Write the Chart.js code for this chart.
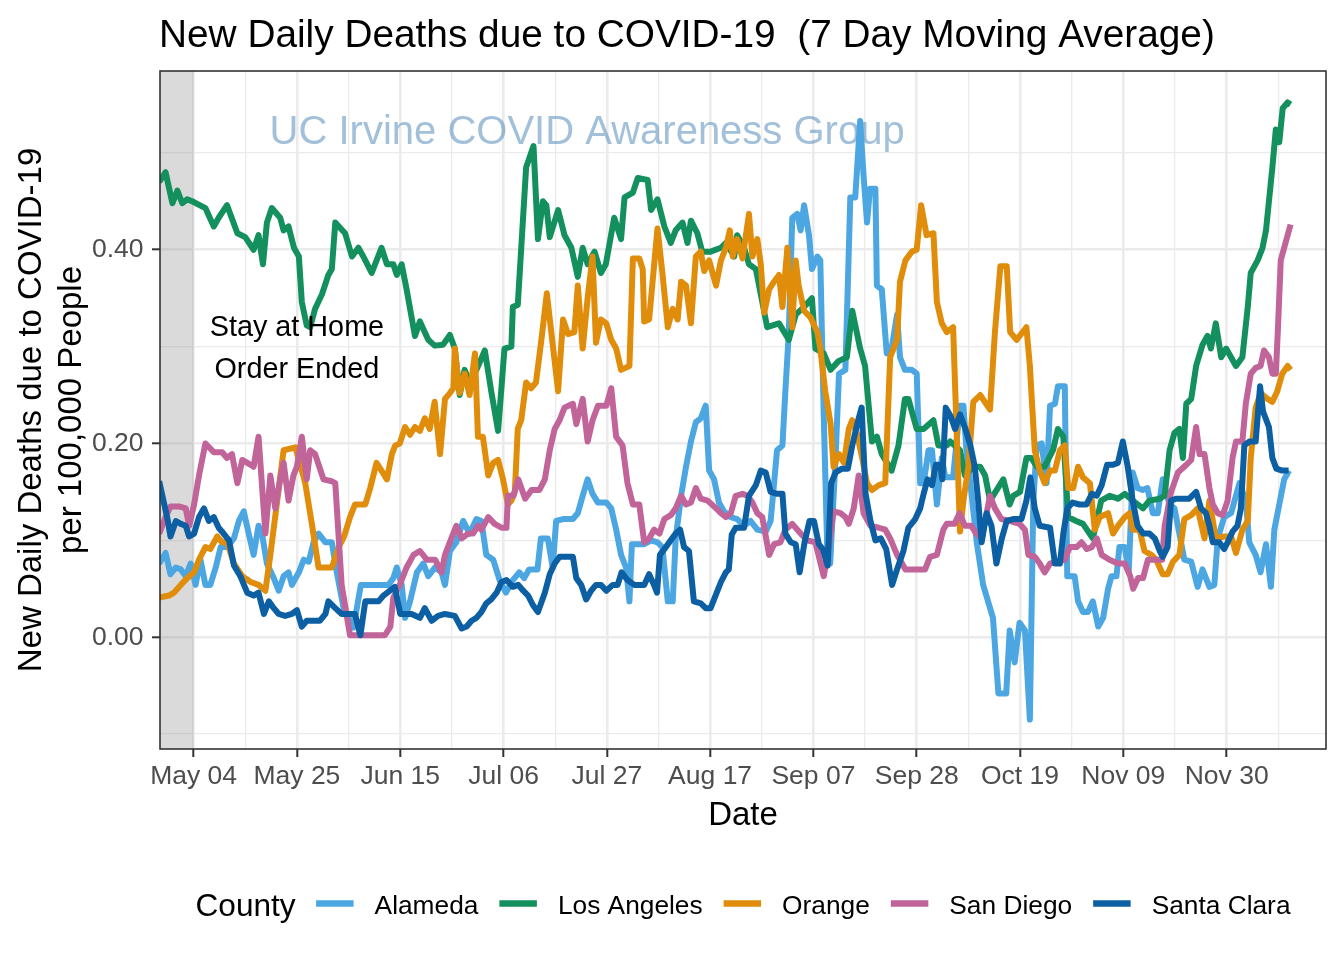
<!DOCTYPE html>
<html>
<head>
<meta charset="utf-8">
<script src="https://cdn.jsdelivr.net/npm/chart.js@4/dist/chart.umd.min.js"></script>
<style>
html,body{margin:0;padding:0;background:#ffffff;}
canvas{display:block;}
</style>
</head>
<body>
<canvas id="c" width="1344" height="960"></canvas>
<script>
// ---------- DATA (x = days since May 04, y = deaths per 100,000) ----------
const counties = ['Alameda', 'Los Angeles', 'Orange', 'San Diego', 'Santa Clara'];
const tickDays = [0, 21, 42, 63, 84, 105, 126, 147, 168, 189, 210];
const tickLabels = ['May 04', 'May 25', 'Jun 15', 'Jul 06', 'Jul 27', 'Aug 17', 'Sep 07', 'Sep 28', 'Oct 19', 'Nov 09', 'Nov 30'];
const yTickValues = [0, 0.2, 0.4];
const stayAtHomeEndDay = 0;

const alameda = [[-7,0.076],[-5.7,0.087],[-4.7,0.065],[-3.6,0.072],[-2.6,0.070],[-1.6,0.063],[-0.6,0.076],[0.4,0.054],[1.4,0.080],[2.4,0.054],[3.4,0.054],[4.5,0.072],[5.5,0.093],[6.8,0.093],[8.2,0.102],[9.2,0.120],[10.2,0.130],[11.2,0.107],[12.2,0.085],[13.2,0.115],[13.9,0.107],[14.9,0.076],[16.3,0.061],[17.3,0.048],[18.3,0.063],[19.3,0.067],[20.0,0.054],[21.4,0.067],[22.4,0.080],[23.4,0.078],[24.4,0.098],[25.4,0.107],[26.8,0.098],[28.1,0.098],[29.1,0.067],[30.5,0.030],[32.5,0.010],[34.0,0.054],[36.2,0.054],[37.9,0.054],[39.6,0.054],[40.6,0.061],[41.3,0.072],[42.3,0.054],[43.0,0.020],[44.0,0.037],[45.4,0.067],[46.7,0.076],[47.7,0.063],[49.1,0.072],[50.4,0.067],[51.1,0.054],[52.1,0.089],[53.4,0.098],[54.8,0.120],[56.1,0.107],[57.5,0.122],[58.5,0.120],[59.5,0.085],[60.9,0.080],[62.2,0.059],[63.5,0.046],[64.9,0.059],[66.2,0.067],[67.2,0.061],[68.2,0.070],[69.9,0.070],[70.6,0.102],[72.0,0.102],[73.0,0.072],[73.7,0.120],[75.1,0.122],[77.1,0.122],[78.1,0.128],[79.1,0.146],[80.1,0.163],[81.1,0.148],[82.2,0.139],[83.9,0.139],[84.9,0.133],[85.9,0.111],[86.9,0.085],[87.9,0.072],[88.6,0.037],[89.1,0.096],[90.3,0.096],[91.6,0.096],[93.0,0.100],[94.3,0.098],[95.3,0.093],[96.4,0.037],[97.4,0.037],[98.0,0.102],[99.1,0.146],[100.1,0.176],[101.1,0.202],[102.1,0.222],[103.1,0.226],[104.1,0.239],[104.8,0.172],[105.8,0.163],[106.8,0.139],[107.8,0.130],[109.2,0.124],[110.5,0.122],[111.9,0.115],[113.2,0.120],[114.6,0.111],[116.3,0.109],[117.3,0.120],[118.0,0.159],[118.6,0.193],[119.7,0.198],[120.3,0.254],[121.0,0.315],[121.7,0.433],[122.7,0.437],[123.4,0.420],[124.1,0.446],[125.1,0.415],[125.7,0.380],[126.8,0.393],[127.4,0.389],[128.1,0.228],[128.8,0.093],[129.4,0.076],[130.5,0.185],[131.2,0.272],[132.5,0.276],[133.5,0.454],[134.5,0.454],[135.5,0.533],[136.2,0.476],[136.9,0.428],[137.5,0.463],[138.6,0.463],[138.9,0.363],[139.9,0.359],[140.9,0.293],[141.9,0.298],[143.0,0.333],[143.6,0.289],[144.6,0.276],[146.0,0.276],[147.0,0.272],[147.7,0.159],[148.4,0.159],[149.4,0.193],[150.1,0.193],[151.1,0.137],[152.1,0.185],[152.8,0.165],[154.4,0.165],[155.8,0.239],[156.5,0.239],[157.1,0.193],[158.1,0.150],[159.2,0.098],[160.5,0.054],[162.5,0.020],[163.6,-0.058],[165.2,-0.058],[165.9,0.007],[166.9,-0.026],[167.9,0.015],[169.0,0.007],[170.0,-0.085],[170.7,0.141],[171.4,0.198],[172.4,0.200],[173.4,0.159],[174.1,0.239],[175.1,0.241],[175.7,0.259],[177.1,0.259],[177.6,0.063],[179.1,0.063],[179.8,0.037],[180.8,0.026],[181.8,0.026],[182.8,0.037],[183.9,0.011],[184.9,0.020],[185.9,0.050],[186.6,0.063],[187.6,0.063],[188.2,0.093],[189.3,0.093],[190.1,0.067],[190.9,0.170],[191.9,0.154],[192.9,0.152],[193.9,0.154],[195.0,0.128],[196.0,0.128],[197.0,0.163],[198.4,0.137],[199.4,0.133],[200.4,0.107],[201.4,0.080],[202.8,0.078],[204.1,0.052],[205.1,0.070],[206.5,0.052],[207.5,0.054],[208.2,0.102],[209.5,0.124],[210.9,0.128],[212.6,0.159],[213.9,0.141],[214.6,0.098],[215.9,0.085],[216.9,0.067],[218.0,0.096],[219.0,0.052],[219.7,0.111],[220.7,0.137],[221.7,0.163],[222.7,0.172]];

const losAngeles = [[-7,0.470],[-5.7,0.480],[-4.3,0.448],[-3.3,0.461],[-2.3,0.448],[-1.3,0.452],[-0.3,0.450],[2.4,0.443],[4.1,0.424],[5.1,0.433],[6.8,0.446],[8.9,0.417],[10.5,0.413],[12.2,0.400],[13.2,0.415],[14.1,0.385],[14.9,0.428],[15.9,0.443],[17.6,0.433],[18.3,0.420],[19.3,0.424],[20.4,0.402],[21.4,0.393],[22.0,0.346],[23.0,0.322],[23.7,0.320],[24.7,0.339],[26.1,0.354],[27.4,0.374],[28.1,0.380],[28.8,0.428],[30.8,0.417],[32.2,0.393],[33.5,0.402],[34.5,0.393],[36.2,0.376],[38.2,0.402],[39.3,0.385],[40.6,0.385],[41.3,0.374],[42.3,0.385],[43.3,0.359],[45.0,0.311],[46.0,0.326],[47.7,0.307],[49.0,0.301],[50.7,0.302],[52.1,0.312],[53.1,0.298],[54.1,0.250],[55.1,0.276],[56.1,0.263],[57.5,0.276],[59.2,0.296],[60.5,0.254],[61.9,0.213],[63.2,0.298],[64.6,0.300],[64.9,0.341],[65.9,0.343],[67.6,0.485],[69.1,0.507],[70.0,0.411],[71.0,0.450],[71.7,0.446],[72.4,0.413],[74.1,0.441],[75.4,0.415],[76.8,0.402],[78.1,0.372],[79.1,0.402],[80.1,0.385],[81.5,0.398],[82.8,0.376],[83.8,0.385],[85.5,0.433],[86.9,0.411],[87.6,0.454],[89.3,0.459],[90.3,0.474],[92.3,0.472],[93.0,0.441],[94.3,0.452],[95.7,0.424],[97.0,0.407],[98.0,0.420],[99.4,0.428],[100.4,0.407],[101.1,0.430],[102.4,0.417],[103.4,0.398],[105.1,0.398],[107.2,0.402],[108.2,0.407],[109.9,0.393],[110.5,0.415],[111.9,0.402],[112.9,0.385],[114.3,0.380],[115.3,0.354],[116.6,0.320],[119.0,0.324],[121.0,0.307],[122.4,0.333],[124.1,0.341],[125.7,0.350],[126.4,0.298],[128.1,0.293],[129.5,0.276],[131.1,0.285],[132.8,0.289],[133.9,0.337],[135.5,0.298],[136.5,0.280],[137.9,0.202],[138.9,0.207],[139.9,0.189],[141.9,0.172],[143.3,0.198],[144.6,0.246],[145.3,0.246],[147.0,0.215],[148.4,0.215],[150.4,0.224],[151.4,0.198],[153.1,0.198],[153.8,0.202],[155.8,0.193],[156.8,0.167],[158.5,0.176],[159.9,0.176],[160.9,0.167],[161.9,0.141],[164.6,0.163],[165.9,0.137],[166.6,0.146],[168.0,0.150],[169.3,0.185],[170.3,0.185],[171.4,0.176],[173.0,0.176],[174.7,0.193],[175.7,0.215],[176.8,0.207],[177.8,0.124],[179.4,0.120],[180.8,0.117],[182.8,0.102],[184.5,0.141],[186.2,0.146],[187.9,0.143],[189.3,0.148],[190.9,0.141],[193.0,0.133],[194.3,0.141],[196.4,0.143],[197.4,0.146],[198.4,0.193],[199.4,0.211],[200.4,0.215],[201.1,0.185],[201.8,0.241],[202.8,0.246],[203.8,0.280],[205.1,0.302],[206.1,0.311],[206.8,0.298],[207.8,0.324],[208.9,0.289],[209.9,0.298],[210.9,0.289],[211.9,0.280],[213.2,0.289],[214.3,0.341],[214.9,0.376],[216.3,0.389],[217.3,0.402],[218.0,0.420],[218.6,0.450],[219.3,0.485],[220.0,0.524],[220.7,0.511],[221.4,0.546],[222.4,0.552],[223.0,0.550]];

const orange = [[-7,0.041],[-5.0,0.043],[-4.0,0.046],[-2.6,0.054],[-1.3,0.061],[0.1,0.067],[1.1,0.080],[2.4,0.093],[3.4,0.091],[4.8,0.104],[5.8,0.098],[6.8,0.098],[8.2,0.076],[9.9,0.063],[11.6,0.057],[13.2,0.054],[14.6,0.048],[15.6,0.085],[17.0,0.141],[18.3,0.193],[20.7,0.196],[22.7,0.159],[24.1,0.115],[25.4,0.072],[28.1,0.072],[29.5,0.093],[30.6,0.104],[31.8,0.124],[32.8,0.137],[34.9,0.137],[35.9,0.154],[37.2,0.180],[38.2,0.172],[39.3,0.163],[40.3,0.189],[41.0,0.198],[41.9,0.200],[43.0,0.217],[44.0,0.209],[45.0,0.217],[46.0,0.213],[47.0,0.226],[48.0,0.215],[49.0,0.243],[50.1,0.189],[51.1,0.246],[52.1,0.252],[52.8,0.257],[53.1,0.298],[54.1,0.252],[55.1,0.272],[56.1,0.250],[57.2,0.293],[57.8,0.207],[58.8,0.207],[59.9,0.167],[60.9,0.180],[61.9,0.183],[62.9,0.163],[63.9,0.137],[64.6,0.141],[65.3,0.150],[65.9,0.215],[66.6,0.224],[67.6,0.263],[68.6,0.257],[69.6,0.263],[70.7,0.307],[71.8,0.355],[74.1,0.254],[75.1,0.328],[76.1,0.313],[77.4,0.315],[78.1,0.363],[79.1,0.298],[80.1,0.350],[81.1,0.393],[81.8,0.304],[82.8,0.328],[83.9,0.324],[84.9,0.307],[85.9,0.298],[86.9,0.276],[88.6,0.280],[89.3,0.391],[90.6,0.391],[91.3,0.380],[91.6,0.326],[92.6,0.328],[94.3,0.422],[95.3,0.376],[96.4,0.320],[97.4,0.339],[98.4,0.328],[99.1,0.367],[100.1,0.363],[101.1,0.324],[102.1,0.393],[103.1,0.398],[103.8,0.378],[104.8,0.389],[106.2,0.363],[107.2,0.389],[108.2,0.402],[109.0,0.420],[109.6,0.393],[110.5,0.411],[111.6,0.391],[112.9,0.437],[113.6,0.393],[114.6,0.411],[115.3,0.385],[116.0,0.335],[117.0,0.359],[118.0,0.367],[119.0,0.374],[119.7,0.341],[120.7,0.402],[121.7,0.320],[122.4,0.389],[123.0,0.363],[124.1,0.337],[125.4,0.330],[126.8,0.315],[127.4,0.298],[128.4,0.254],[129.5,0.220],[130.1,0.176],[131.2,0.189],[132.2,0.180],[133.2,0.215],[133.9,0.224],[134.9,0.209],[135.9,0.185],[136.9,0.159],[137.9,0.152],[139.3,0.157],[140.6,0.159],[141.6,0.289],[143.0,0.307],[143.6,0.367],[144.7,0.389],[146.0,0.398],[147.0,0.400],[147.9,0.446],[149.0,0.415],[150.4,0.417],[151.1,0.346],[152.1,0.324],[153.1,0.315],[154.4,0.320],[155.8,0.109],[156.5,0.141],[157.5,0.176],[158.5,0.243],[159.9,0.250],[161.9,0.235],[162.9,0.315],[164.0,0.383],[165.3,0.383],[166.0,0.315],[167.3,0.307],[169.3,0.320],[170.0,0.280],[171.0,0.193],[172.0,0.172],[173.0,0.159],[174.1,0.172],[175.1,0.172],[176.1,0.193],[177.1,0.198],[177.8,0.154],[178.8,0.154],[179.8,0.176],[180.8,0.165],[182.2,0.159],[183.2,0.111],[184.2,0.124],[185.9,0.128],[186.9,0.107],[187.9,0.115],[189.3,0.124],[190.3,0.128],[190.9,0.111],[192.3,0.111],[193.3,0.089],[194.7,0.085],[195.7,0.080],[197.0,0.065],[198.0,0.065],[199.1,0.078],[200.4,0.085],[201.4,0.122],[202.8,0.126],[204.1,0.133],[205.5,0.102],[206.5,0.141],[207.8,0.102],[209.5,0.104],[210.9,0.104],[211.9,0.087],[213.2,0.111],[214.3,0.120],[214.9,0.185],[215.9,0.237],[216.9,0.252],[218.3,0.246],[219.3,0.243],[220.3,0.254],[221.3,0.272],[222.4,0.280],[223.0,0.276]];

const sanDiego = [[-7,0.107],[-5.7,0.124],[-4.7,0.135],[-3.0,0.135],[-1.6,0.133],[-0.9,0.115],[0.1,0.137],[1.1,0.167],[2.4,0.200],[4.1,0.191],[5.8,0.191],[6.8,0.185],[7.8,0.189],[8.9,0.159],[9.9,0.183],[11.6,0.178],[12.2,0.176],[13.2,0.207],[14.6,0.107],[15.6,0.167],[16.6,0.133],[17.6,0.163],[18.3,0.180],[19.3,0.141],[20.3,0.167],[21.0,0.176],[22.0,0.207],[23.0,0.163],[23.7,0.193],[24.7,0.189],[26.4,0.163],[28.1,0.161],[28.8,0.159],[30.1,0.054],[31.8,0.002],[34.9,0.002],[38.9,0.002],[40.0,0.011],[40.6,0.041],[41.9,0.054],[43.3,0.072],[44.7,0.085],[46.0,0.089],[47.4,0.080],[49.1,0.080],[50.4,0.067],[51.1,0.085],[52.4,0.102],[53.4,0.115],[54.5,0.102],[55.8,0.107],[56.8,0.107],[57.8,0.115],[58.5,0.111],[59.9,0.124],[61.2,0.117],[62.6,0.113],[63.6,0.113],[63.9,0.146],[65.0,0.146],[66.0,0.163],[67.4,0.143],[68.7,0.152],[70.3,0.152],[71.4,0.163],[72.4,0.193],[73.4,0.215],[74.4,0.224],[75.4,0.237],[77.1,0.241],[77.8,0.220],[79.1,0.246],[80.1,0.202],[81.1,0.224],[82.2,0.239],[83.9,0.239],[84.9,0.257],[85.9,0.207],[87.2,0.198],[88.2,0.159],[89.3,0.137],[90.6,0.137],[91.6,0.098],[92.6,0.102],[93.6,0.111],[94.7,0.107],[95.7,0.122],[97.0,0.126],[98.0,0.133],[99.1,0.146],[100.1,0.137],[101.1,0.139],[102.1,0.154],[103.1,0.143],[104.5,0.141],[105.8,0.135],[107.2,0.128],[108.2,0.124],[109.2,0.128],[110.2,0.146],[111.6,0.148],[112.6,0.146],[113.6,0.139],[114.6,0.128],[115.6,0.124],[117.0,0.085],[118.0,0.096],[119.3,0.098],[120.3,0.111],[121.7,0.117],[123.4,0.107],[124.7,0.100],[126.4,0.098],[128.1,0.063],[129.1,0.093],[130.1,0.130],[131.5,0.128],[132.5,0.124],[133.2,0.117],[134.2,0.133],[135.2,0.167],[136.2,0.128],[137.6,0.115],[139.3,0.113],[140.6,0.111],[141.6,0.102],[143.0,0.085],[144.7,0.070],[146.4,0.070],[148.7,0.070],[149.7,0.083],[151.1,0.085],[152.4,0.111],[153.1,0.117],[154.7,0.117],[155.7,0.128],[156.8,0.115],[158.1,0.115],[159.1,0.107],[160.2,0.102],[161.2,0.128],[161.9,0.146],[162.9,0.133],[164.2,0.122],[165.9,0.120],[167.9,0.117],[169.0,0.111],[169.7,0.085],[171.0,0.083],[172.0,0.076],[173.0,0.067],[174.1,0.076],[175.4,0.078],[177.1,0.080],[178.1,0.093],[179.5,0.093],[180.5,0.098],[181.6,0.091],[182.6,0.093],[183.6,0.102],[184.6,0.085],[186.2,0.080],[187.9,0.076],[189.3,0.076],[190.4,0.063],[191.0,0.050],[192.0,0.061],[193.0,0.061],[194.0,0.080],[195.7,0.080],[196.9,0.080],[197.4,0.115],[198.7,0.150],[200.1,0.170],[201.8,0.178],[202.8,0.183],[203.8,0.217],[204.5,0.189],[205.5,0.189],[206.5,0.154],[207.2,0.137],[208.2,0.128],[209.2,0.126],[210.2,0.141],[211.2,0.185],[211.9,0.202],[213.2,0.202],[213.9,0.241],[214.9,0.272],[215.9,0.278],[216.9,0.280],[217.6,0.296],[218.6,0.289],[219.3,0.272],[220.0,0.272],[220.4,0.315],[221.0,0.389],[221.7,0.402],[222.4,0.415],[223.0,0.426]];

const santaClara = [[-7,0.161],[-5.3,0.122],[-4.7,0.104],[-3.6,0.120],[-2.6,0.117],[-1.6,0.115],[-0.9,0.104],[0.1,0.107],[1.1,0.124],[2.1,0.133],[3.1,0.120],[4.1,0.124],[5.1,0.113],[6.1,0.107],[7.2,0.100],[8.2,0.074],[9.5,0.063],[10.9,0.046],[12.2,0.043],[13.2,0.046],[14.3,0.024],[15.3,0.037],[16.3,0.030],[17.3,0.024],[18.6,0.022],[20.0,0.024],[21.0,0.028],[22.0,0.011],[23.0,0.017],[24.4,0.017],[25.7,0.017],[26.8,0.024],[27.4,0.037],[28.8,0.030],[30.1,0.024],[32.8,0.024],[33.9,0.002],[34.9,0.037],[37.6,0.037],[38.6,0.043],[39.9,0.048],[40.9,0.052],[42.0,0.024],[44.3,0.024],[46.0,0.020],[47.0,0.030],[48.4,0.017],[49.7,0.022],[51.1,0.024],[53.1,0.022],[54.5,0.009],[55.5,0.011],[56.5,0.017],[57.5,0.020],[58.5,0.026],[59.5,0.035],[60.5,0.039],[61.6,0.046],[62.6,0.057],[63.6,0.059],[64.9,0.052],[66.0,0.054],[67.0,0.048],[68.0,0.043],[69.0,0.033],[70.0,0.026],[71.4,0.046],[72.4,0.065],[73.4,0.076],[74.4,0.083],[77.1,0.083],[77.8,0.061],[78.8,0.054],[79.8,0.039],[80.8,0.048],[81.8,0.054],[82.8,0.054],[83.9,0.048],[85.2,0.054],[86.2,0.054],[87.0,0.067],[88.2,0.059],[89.6,0.054],[91.6,0.054],[92.6,0.065],[93.6,0.054],[94.2,0.046],[94.8,0.085],[96.0,0.093],[97.0,0.100],[98.0,0.107],[98.9,0.111],[99.7,0.093],[100.7,0.089],[101.7,0.037],[103.1,0.035],[104.1,0.030],[105.1,0.030],[106.1,0.043],[107.2,0.057],[108.2,0.067],[108.8,0.070],[109.4,0.106],[110.2,0.113],[111.9,0.113],[112.9,0.146],[114.3,0.157],[115.3,0.172],[116.3,0.170],[117.3,0.150],[118.6,0.148],[119.7,0.148],[120.3,0.107],[121.4,0.098],[122.4,0.096],[123.2,0.067],[124.2,0.098],[125.2,0.120],[126.1,0.120],[127.1,0.096],[127.9,0.091],[128.9,0.074],[129.6,0.159],[130.5,0.170],[131.8,0.174],[133.0,0.174],[133.9,0.198],[134.9,0.220],[135.8,0.237],[136.6,0.148],[137.6,0.120],[138.6,0.100],[139.7,0.102],[140.8,0.091],[142.0,0.054],[143.0,0.070],[144.3,0.089],[145.3,0.113],[146.7,0.122],[147.7,0.133],[148.4,0.148],[149.2,0.163],[150.1,0.157],[150.9,0.178],[151.8,0.178],[152.2,0.163],[152.9,0.237],[153.9,0.228],[154.8,0.215],[155.8,0.230],[156.9,0.215],[157.9,0.198],[158.8,0.176],[159.5,0.141],[160.2,0.098],[161.2,0.128],[162.2,0.115],[163.2,0.076],[164.3,0.102],[165.3,0.120],[166.6,0.122],[168.3,0.122],[169.3,0.141],[170.1,0.165],[171.0,0.133],[172.0,0.115],[174.1,0.113],[175.1,0.076],[176.1,0.076],[176.8,0.107],[177.6,0.133],[178.7,0.139],[180.1,0.137],[181.5,0.137],[182.6,0.148],[183.6,0.146],[184.6,0.157],[185.7,0.178],[186.9,0.178],[187.9,0.180],[188.9,0.202],[189.9,0.176],[190.9,0.141],[191.9,0.115],[193.0,0.107],[194.3,0.107],[195.4,0.102],[196.4,0.089],[197.0,0.083],[198.0,0.093],[198.7,0.141],[199.7,0.143],[202.4,0.143],[203.8,0.150],[204.8,0.133],[205.8,0.128],[206.5,0.115],[207.2,0.098],[208.5,0.098],[209.5,0.091],[210.2,0.098],[211.2,0.109],[212.2,0.115],[212.9,0.133],[213.6,0.198],[214.6,0.202],[215.9,0.202],[216.8,0.259],[217.4,0.233],[218.6,0.217],[219.3,0.185],[220.1,0.174],[221.3,0.172],[222.6,0.172]];

const seriesData = [alameda, losAngeles, orange, sanDiego, santaClara];

// ---------- STYLE ----------
const FONT = '"Liberation Sans", Arial, Helvetica, sans-serif';
const colors = ['#4BA6E1', '#14905E', '#E08D0B', '#C0649A', '#0C5FA2'];
const X_MIN = -6.83, X_MAX = 230.2;
const Y_MIN = -0.1154, Y_MAX = 0.5845;
const xGrid = [];
for (let d = 0; d <= X_MAX; d += 10.5) xGrid.push(d);
const yGrid = [-0.1, 0, 0.1, 0.2, 0.3, 0.4, 0.5];
const isMajorX = v => tickDays.some(t => Math.abs(t - v) < 1e-6);
const isMajorY = v => yTickValues.some(t => Math.abs(t - v) < 1e-6);

const ggPlugin = {
  id: 'ggDecor',
  beforeDatasetsDraw(chart) {
    const { ctx, chartArea: a, scales: { x, y } } = chart;
    ctx.save();
    const xe = x.getPixelForValue(stayAtHomeEndDay);
    ctx.fillStyle = 'rgba(128,128,128,0.29)';
    ctx.fillRect(a.left, a.top, xe - a.left, a.bottom - a.top);
    ctx.font = '40px ' + FONT;
    ctx.fillStyle = 'rgba(70,130,180,0.5)';
    ctx.textAlign = 'center';
    ctx.textBaseline = 'alphabetic';
    ctx.fillText('UC Irvine COVID Awareness Group', x.getPixelForValue(80), y.getPixelForValue(0.524) + 14.3);
    ctx.restore();
  },
  afterDatasetsDraw(chart) {
    const { ctx, chartArea: a, scales: { x, y } } = chart;
    ctx.save();
    ctx.font = '28.8px ' + FONT;
    ctx.fillStyle = '#000000';
    ctx.textAlign = 'center';
    ctx.textBaseline = 'alphabetic';
    const ax = x.getPixelForValue(21), ay = y.getPixelForValue(0.3);
    ctx.fillText('Stay at Home', ax, ay - 21 + 10.3);
    ctx.fillText('Order Ended', ax, ay + 21 + 10.3);
    ctx.strokeStyle = '#333333';
    ctx.lineWidth = 1.6;
    ctx.strokeRect(a.left, a.top, a.right - a.left, a.bottom - a.top);
    ctx.restore();
  },
  afterDraw(chart) {
    const { ctx, chartArea: a } = chart;
    ctx.save();
    ctx.fillStyle = '#000000';
    ctx.textBaseline = 'alphabetic';
    ctx.font = '38.8px ' + FONT;
    ctx.textAlign = 'left';
    ctx.fillText('New Daily Deaths due to COVID-19  (7 Day Moving Average)', a.left - 1, 46.5);
    ctx.font = '33px ' + FONT;
    ctx.textAlign = 'center';
    const cx = (a.left + a.right) / 2;
    ctx.fillText('Date', cx, 825);
    const cy = (a.top + a.bottom) / 2;
    ctx.save();
    ctx.translate(41, cy);
    ctx.rotate(-Math.PI / 2);
    ctx.fillText('New Daily Deaths due to COVID-19', 0, 0);
    ctx.restore();
    ctx.save();
    ctx.translate(80.5, cy);
    ctx.rotate(-Math.PI / 2);
    ctx.fillText('per 100,000 People', 0, 0);
    ctx.restore();
    // legend
    const titleFont = '31.6px ' + FONT, itemFont = '26.3px ' + FONT;
    ctx.font = titleFont;
    const wTitle = ctx.measureText('County').width;
    ctx.font = itemFont;
    const wItems = counties.map(c => ctx.measureText(c).width);
    const sw = 37.5, g1 = 20.5, g2 = 21, g3 = 21;
    let total = wTitle + g1;
    wItems.forEach((w, i) => { total += sw + g2 + w + (i < wItems.length - 1 ? g3 : 0); });
    let lx = cx - total / 2;
    const ly = 905;
    ctx.textAlign = 'left';
    ctx.font = titleFont;
    ctx.fillText('County', lx, ly + 11.3);
    lx += wTitle + g1;
    ctx.font = itemFont;
    counties.forEach((c, i) => {
      ctx.strokeStyle = colors[i];
      ctx.lineWidth = 6.5;
      ctx.lineCap = 'butt';
      ctx.beginPath();
      ctx.moveTo(lx, ly - 1.5);
      ctx.lineTo(lx + sw, ly - 1.5);
      ctx.stroke();
      lx += sw + g2;
      ctx.fillStyle = '#000000';
      ctx.fillText(c, lx, ly + 9.4);
      lx += wItems[i] + g3;
    });
    ctx.restore();
  }
};

const datasets = counties.map((name, i) => ({
  label: name,
  data: seriesData[i].map(p => ({ x: p[0], y: p[1] })),
  borderColor: colors[i],
  backgroundColor: colors[i],
  borderWidth: 6,
  borderJoinStyle: 'round',
  borderCapStyle: 'butt',
  pointRadius: 0,
  pointHoverRadius: 0,
  tension: 0,
  fill: false,
  clip: 0,
  order: counties.length - i
}));

Chart.defaults.font.family = FONT;

new Chart(document.getElementById('c'), {
  type: 'line',
  data: { datasets },
  options: {
    responsive: false,
    devicePixelRatio: 1,
    animation: false,
    parsing: false,
    layout: { padding: { left: 0, top: 71, right: 18, bottom: 161 } },
    plugins: { legend: { display: false }, title: { display: false }, tooltip: { enabled: false } },
    scales: {
      x: {
        type: 'linear',
        min: X_MIN,
        max: X_MAX,
        afterBuildTicks: s => { s.ticks = xGrid.map(v => ({ value: v })); },
        afterFit: s => { s.height = 50; },
        border: { display: false },
        grid: {
          color: '#EBEBEB',
          lineWidth: c => (c.tick && isMajorX(c.tick.value)) ? 2.6 : 1.3,
          tickLength: 8,
          tickWidth: 2,
          tickColor: c => (c.tick && isMajorX(c.tick.value)) ? '#333333' : 'rgba(0,0,0,0)'
        },
        ticks: {
          autoSkip: false,
          maxRotation: 0,
          minRotation: 0,
          padding: 4,
          color: '#4D4D4D',
          font: { size: 26.5 },
          callback: v => { const i = tickDays.findIndex(t => Math.abs(t - v) < 1e-6); return i >= 0 ? tickLabels[i] : ''; }
        }
      },
      y: {
        type: 'linear',
        min: Y_MIN,
        max: Y_MAX,
        afterBuildTicks: s => { s.ticks = yGrid.map(v => ({ value: v })); },
        afterFit: s => { s.width = 160; },
        border: { display: false },
        grid: {
          color: '#EBEBEB',
          lineWidth: c => (c.tick && isMajorY(c.tick.value)) ? 2.6 : 1.3,
          tickLength: 8,
          tickWidth: 2,
          tickColor: c => (c.tick && isMajorY(c.tick.value)) ? '#333333' : 'rgba(0,0,0,0)'
        },
        ticks: {
          padding: 8.5,
          color: '#4D4D4D',
          font: { size: 26.5 },
          callback: v => isMajorY(v) ? v.toFixed(2) : ''
        }
      }
    }
  },
  plugins: [ggPlugin]
});
</script>
</body>
</html>
